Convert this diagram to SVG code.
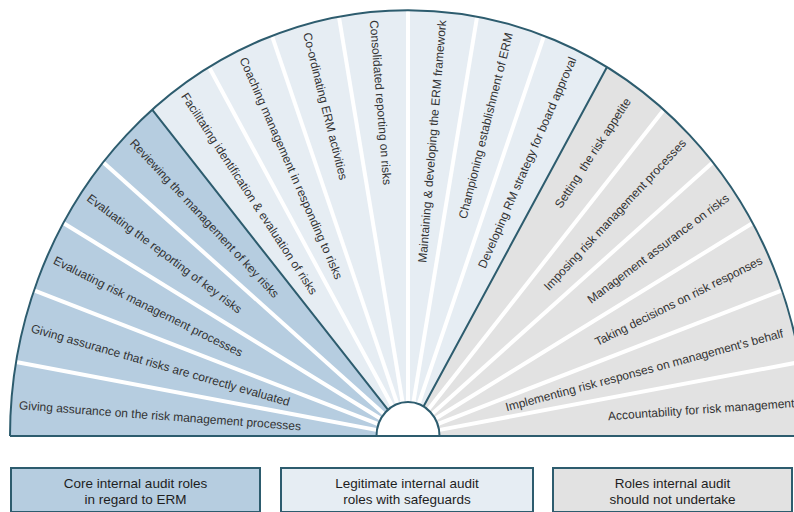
<svg xmlns="http://www.w3.org/2000/svg" width="794" height="512" viewBox="0 0 794 512">
<style>
.lbl{font-family:"Liberation Sans",Arial,sans-serif;font-size:12px;fill:#333;}
.end{text-anchor:end;}
.leg{font-family:"Liberation Sans",Arial,sans-serif;font-size:13.5px;fill:#1e1e1e;text-anchor:middle;}
.core{fill:#b6cde0;}
.legit{fill:#e6edf3;}
.not{fill:#e2e2e2;}
.sep{stroke:#fff;stroke-width:4;stroke-linecap:butt;}
.edge{fill:none;stroke:#2d5c6e;stroke-width:2;}
.box{stroke:#2d5c6e;stroke-width:2;}
</style>
<rect width="794" height="512" fill="#fff"/>
<g id="seg-0"><path class="core" d="M408,436 L10,436 A398,426 0 0 1 16.05,362.03 Z"/><text class="lbl" transform="translate(19,405) rotate(4.3)" dy="0.35em">Giving assurance on the risk management processes</text></g>
<g id="seg-1"><path class="core" d="M408,436 L16.05,362.03 A398,426 0 0 1 34,290.3 Z"/><text class="lbl" transform="translate(31.3,328) rotate(16)" dy="0.35em">Giving assurance that risks are correctly evaluated</text></g>
<g id="seg-2"><path class="core" d="M408,436 L34,290.3 A398,426 0 0 1 63.32,223 Z"/><text class="lbl" transform="translate(54.5,259.6) rotate(26.53)" dy="0.35em">Evaluating risk management processes</text></g>
<g id="seg-3"><path class="core" d="M408,436 L63.32,223 A398,426 0 0 1 103.12,162.17 Z"/><text class="lbl" transform="translate(88.5,196.6) rotate(36.85)" dy="0.35em">Evaluating the reporting of key risks</text></g>
<g id="seg-4"><path class="core" d="M408,436 L103.12,162.17 A398,426 0 0 1 152.17,109.67 Z"/><text class="lbl" transform="translate(132.2,140.8) rotate(46.95)" dy="0.35em">Reviewing the management of key risks</text></g>
<g id="seg-5"><path class="legit" d="M408,436 L152.17,109.67 A398,426 0 0 1 209,67.07 Z"/><text class="lbl" transform="translate(184.3,94) rotate(56.81)" dy="0.35em">Facilitating identification &amp; evaluation of risks</text></g>
<g id="seg-6"><path class="legit" d="M408,436 L209,67.07 A398,426 0 0 1 271.88,35.69 Z"/><text class="lbl" transform="translate(243.2,57.7) rotate(66.46)" dy="0.35em">Coaching management in responding to risks</text></g>
<g id="seg-7"><path class="legit" d="M408,436 L271.88,35.69 A398,426 0 0 1 338.89,16.47 Z"/><text class="lbl" transform="translate(307.1,32.8) rotate(75.95)" dy="0.35em">Co-ordinating ERM activities</text></g>
<g id="seg-8"><path class="legit" d="M408,436 L338.89,16.47 A398,426 0 0 1 408,10 Z"/><text class="lbl" transform="translate(374,20.1) rotate(85.33)" dy="0.35em">Consolidated reporting on risks</text></g>
<g id="seg-9"><path class="legit" d="M408,436 L408,10 A398,426 0 0 1 477.11,16.47 Z"/><text class="lbl end" transform="translate(442,20.1) rotate(-85.33)" dy="0.35em">Maintaining &amp; developing the ERM framework</text></g>
<g id="seg-10"><path class="legit" d="M408,436 L477.11,16.47 A398,426 0 0 1 544.12,35.69 Z"/><text class="lbl end" transform="translate(508.9,32.8) rotate(-75.95)" dy="0.35em">Championing establishment of ERM</text></g>
<g id="seg-11"><path class="legit" d="M408,436 L544.12,35.69 A398,426 0 0 1 607,67.07 Z"/><text class="lbl end" transform="translate(572.8,57.7) rotate(-66.46)" dy="0.35em">Developing RM strategy for board approval</text></g>
<g id="seg-12"><path class="not" d="M408,436 L607,67.07 A398,426 0 0 1 663.83,109.67 Z"/><text class="lbl end" transform="translate(628,99) rotate(-56.81)" dy="0.35em">Setting&#160; the risk appetite</text></g>
<g id="seg-13"><path class="not" d="M408,436 L663.83,109.67 A398,426 0 0 1 712.88,162.17 Z"/><text class="lbl end" transform="translate(683.8,140.8) rotate(-46.95)" dy="0.35em">Imposing risk management processes</text></g>
<g id="seg-14"><path class="not" d="M408,436 L712.88,162.17 A398,426 0 0 1 752.68,223 Z"/><text class="lbl end" transform="translate(727.5,196.6) rotate(-36.85)" dy="0.35em">Management assurance on risks</text></g>
<g id="seg-15"><path class="not" d="M408,436 L752.68,223 A398,426 0 0 1 782,290.3 Z"/><text class="lbl end" transform="translate(761.5,259.6) rotate(-26.53)" dy="0.35em">Taking decisions on risk responses</text></g>
<g id="seg-16"><path class="not" d="M408,436 L782,290.3 A398,426 0 0 1 799.95,362.03 Z"/><text class="lbl end" transform="translate(783,333) rotate(-15)" dy="0.35em">Implementing risk responses on management's behalf</text></g>
<g id="seg-17"><path class="not" d="M408,436 L799.95,362.03 A398,426 0 0 1 806,436 Z"/><text class="lbl" transform="translate(608,416) rotate(-4)" dy="0.35em">Accountability for risk management</text></g>
<g id="connectors">
<g class="sep">
<line x1="377.47" y1="430.1" x2="16.05" y2="362.03"/>
<line x1="378.87" y1="424.37" x2="34" y2="290.3"/>
<line x1="381.15" y1="419" x2="63.32" y2="223"/>
<line x1="384.25" y1="414.15" x2="103.12" y2="162.17"/>
<line x1="392.5" y1="406.55" x2="209" y2="67.07"/>
<line x1="397.4" y1="404.05" x2="271.88" y2="35.69"/>
<line x1="402.62" y1="402.52" x2="338.89" y2="16.47"/>
<line x1="408" y1="402" x2="408" y2="10"/>
<line x1="413.38" y1="402.52" x2="477.11" y2="16.47"/>
<line x1="418.6" y1="404.05" x2="544.12" y2="35.69"/>
<line x1="427.93" y1="409.95" x2="663.83" y2="109.67"/>
<line x1="431.75" y1="414.15" x2="712.88" y2="162.17"/>
<line x1="434.85" y1="419" x2="752.68" y2="223"/>
<line x1="436.87" y1="424.37" x2="782" y2="290.3"/>
<line x1="438.53" y1="430.1" x2="799.95" y2="362.03"/>
</g>
<path class="edge" d="M388.07,409.95 L152.17,109.67 M423.5,406.55 L607,67.07"/>
<path class="edge" d="M10,436 A398,426 0 0 1 806,436 M10,436 L376.5,436 M439.5,436 L806,436"/>
<path d="M376.5,436 A31.5,34 0 0 1 439.5,436 Z" fill="#fff" stroke="#2d5c6e" stroke-width="2"/>
</g>
<g id="legend-core"><rect class="box core" x="11" y="468" width="249" height="44"/><text class="leg" x="135.5" y="488">Core internal audit roles</text><text class="leg" x="135.5" y="504">in regard to ERM</text></g>
<g id="legend-legit"><rect class="box legit" x="281" y="468" width="252" height="44"/><text class="leg" x="407" y="488">Legitimate internal audit</text><text class="leg" x="407" y="504">roles with safeguards</text></g>
<g id="legend-not"><rect class="box not" x="553" y="468" width="239" height="44"/><text class="leg" x="672.5" y="488">Roles internal audit</text><text class="leg" x="672.5" y="504">should not undertake</text></g>
</svg>
